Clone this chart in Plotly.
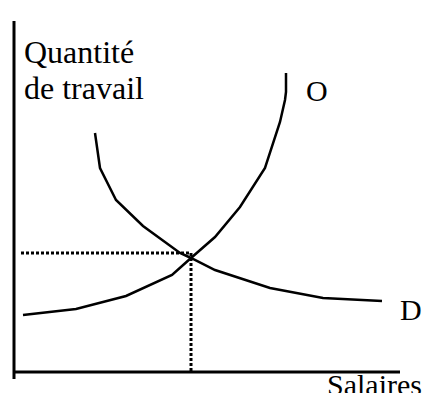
import plotly.graph_objects as go

offre_x = [9, 62, 112, 158, 177, 201, 226, 251, 266, 271, 272, 272]
offre_y = [57, 63, 76, 97, 114, 135, 165, 204, 250, 272, 280, 299]
demande_x = [81, 86, 102, 129, 166, 177, 201, 256, 309, 368]
demande_y = [239, 204, 172, 146, 119, 114, 102, 84, 74, 71]

# point d'équilibre (lignes pointillées)
eq_x = 177
eq_y = 119

font = "Liberation Serif"

fig = go.Figure()

fig.add_trace(go.Scatter(x=offre_x, y=offre_y, mode="lines",
                         line=dict(color="black", width=2.5), hoverinfo="skip"))
fig.add_trace(go.Scatter(x=demande_x, y=demande_y, mode="lines",
                         line=dict(color="black", width=2.5), hoverinfo="skip"))

# pointillés vers les axes
fig.add_trace(go.Scatter(x=[7, eq_x, eq_x], y=[eq_y, eq_y, 0], mode="lines",
                         line=dict(color="black", width=3, dash="3px,2px"), hoverinfo="skip"))

# axes
fig.add_shape(type="line", x0=0, x1=0, y0=-7, y1=351, line=dict(color="black", width=3))
fig.add_shape(type="line", x0=0, x1=386, y0=0, y1=0, line=dict(color="black", width=3))

# titre de l'axe vertical, sur deux lignes
fig.add_annotation(x=8, y=320, text="Quantité", showarrow=False,
                   xanchor="left", yanchor="middle",
                   font=dict(family=font, size=32, color="black"))
fig.add_annotation(x=8, y=284, text="de travail", showarrow=False,
                   xanchor="left", yanchor="middle",
                   font=dict(family=font, size=32, color="black"))
fig.add_annotation(x=290, y=282, text="O", showarrow=False,
                   xanchor="left", yanchor="middle",
                   font=dict(family=font, size=30, color="black"))
fig.add_annotation(x=384, y=63, text="D", showarrow=False,
                   xanchor="left", yanchor="middle",
                   font=dict(family=font, size=30, color="black"))
fig.add_annotation(x=311, y=-12, text="Salaires", showarrow=False,
                   xanchor="left", yanchor="middle",
                   font=dict(family=font, size=30, color="black"))

# la page ajoute une marge de 8 px autour du graphique
fig.update_layout(
    width=430, height=393,
    margin=dict(l=0, r=0, t=0, b=0),
    paper_bgcolor="white", plot_bgcolor="white",
    showlegend=False,
    xaxis=dict(range=[-6, 424], visible=False),
    yaxis=dict(range=[-29, 364], visible=False),
)

fig.write_html("out.html")
